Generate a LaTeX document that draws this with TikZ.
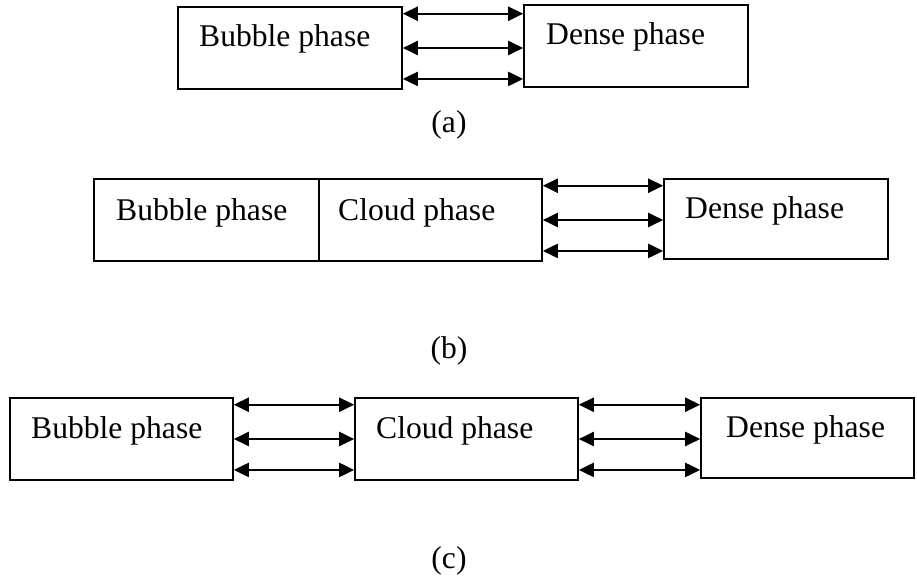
\documentclass[tikz,border=0pt]{standalone}
\usepackage{fontspec}
\setmainfont{Liberation Serif}
\usetikzlibrary{calc,arrows.meta}
\usetikzlibrary{positioning}

\begin{document}
\begin{tikzpicture}[x=1pt,y=-1pt,
    phase/.style={draw, line width=1.6pt, inner sep=0pt},
    txt/.style={inner sep=0pt, font=\fontsize{31.6}{38}\selectfont},
    link/.style={line width=2.2pt, {Triangle[length=15pt,width=14pt]}-{Triangle[length=15pt,width=14pt]}}]
    \useasboundingbox (0,0) rectangle (917,583);
    % (a)
    \node[phase, minimum width=224pt, minimum height=82pt] at (290,48) (abub) {};
    \node[phase, minimum width=224pt, minimum height=82pt] at (636,46) (aden) {};
    \node[txt, anchor=base west] at (199,47) (abubt) {Bubble phase};
    \node[txt, anchor=base west] at (546,45) (adent) {Dense phase};
    \node[txt, anchor=base] at (449,132) (capa) {(a)};
    % (b)
    \node[phase, minimum width=225pt, minimum height=82pt] at (206.5,220) (bbub) {};
    \node[phase, minimum width=223pt, minimum height=82pt] at (430.5,220) (bcld) {};
    \node[phase, minimum width=224pt, minimum height=80pt] at (776,219) (bden) {};
    \node[txt, anchor=base west] at (116,220) (bbubt) {Bubble phase};
    \node[txt, anchor=base west] at (338,220) (bcldt) {Cloud phase};
    \node[txt, anchor=base west] at (685,218) (bdent) {Dense phase};
    \node[txt, anchor=base] at (449,358) (capb) {(b)};
    % (c)
    \node[phase, minimum width=223pt, minimum height=82pt] at (121.5,439) (cbub) {};
    \node[phase, minimum width=223pt, minimum height=82pt] at (466.5,439) (ccld) {};
    \node[phase, minimum width=213pt, minimum height=80pt] at (807.5,438) (cden) {};
    \node[txt, anchor=base west] at (31,438) (cbubt) {Bubble phase};
    \node[txt, anchor=base west] at (376,438) (ccldt) {Cloud phase};
    \node[txt, anchor=base west] at (726,437) (cdent) {Dense phase};
    \node[txt, anchor=base] at (449,568) (capc) {(c)};
    % exchange arrows
    \foreach \s/\t in {abub/aden, bcld/bden, cbub/ccld, ccld/cden}
        \foreach \f in {0.09,0.5,0.87} {
            \coordinate (p) at ($(\s.north east)!\f!(\s.south east)$);
            \draw[link] (p) -- (p -| \t.west);
        }
\end{tikzpicture}
\end{document}
